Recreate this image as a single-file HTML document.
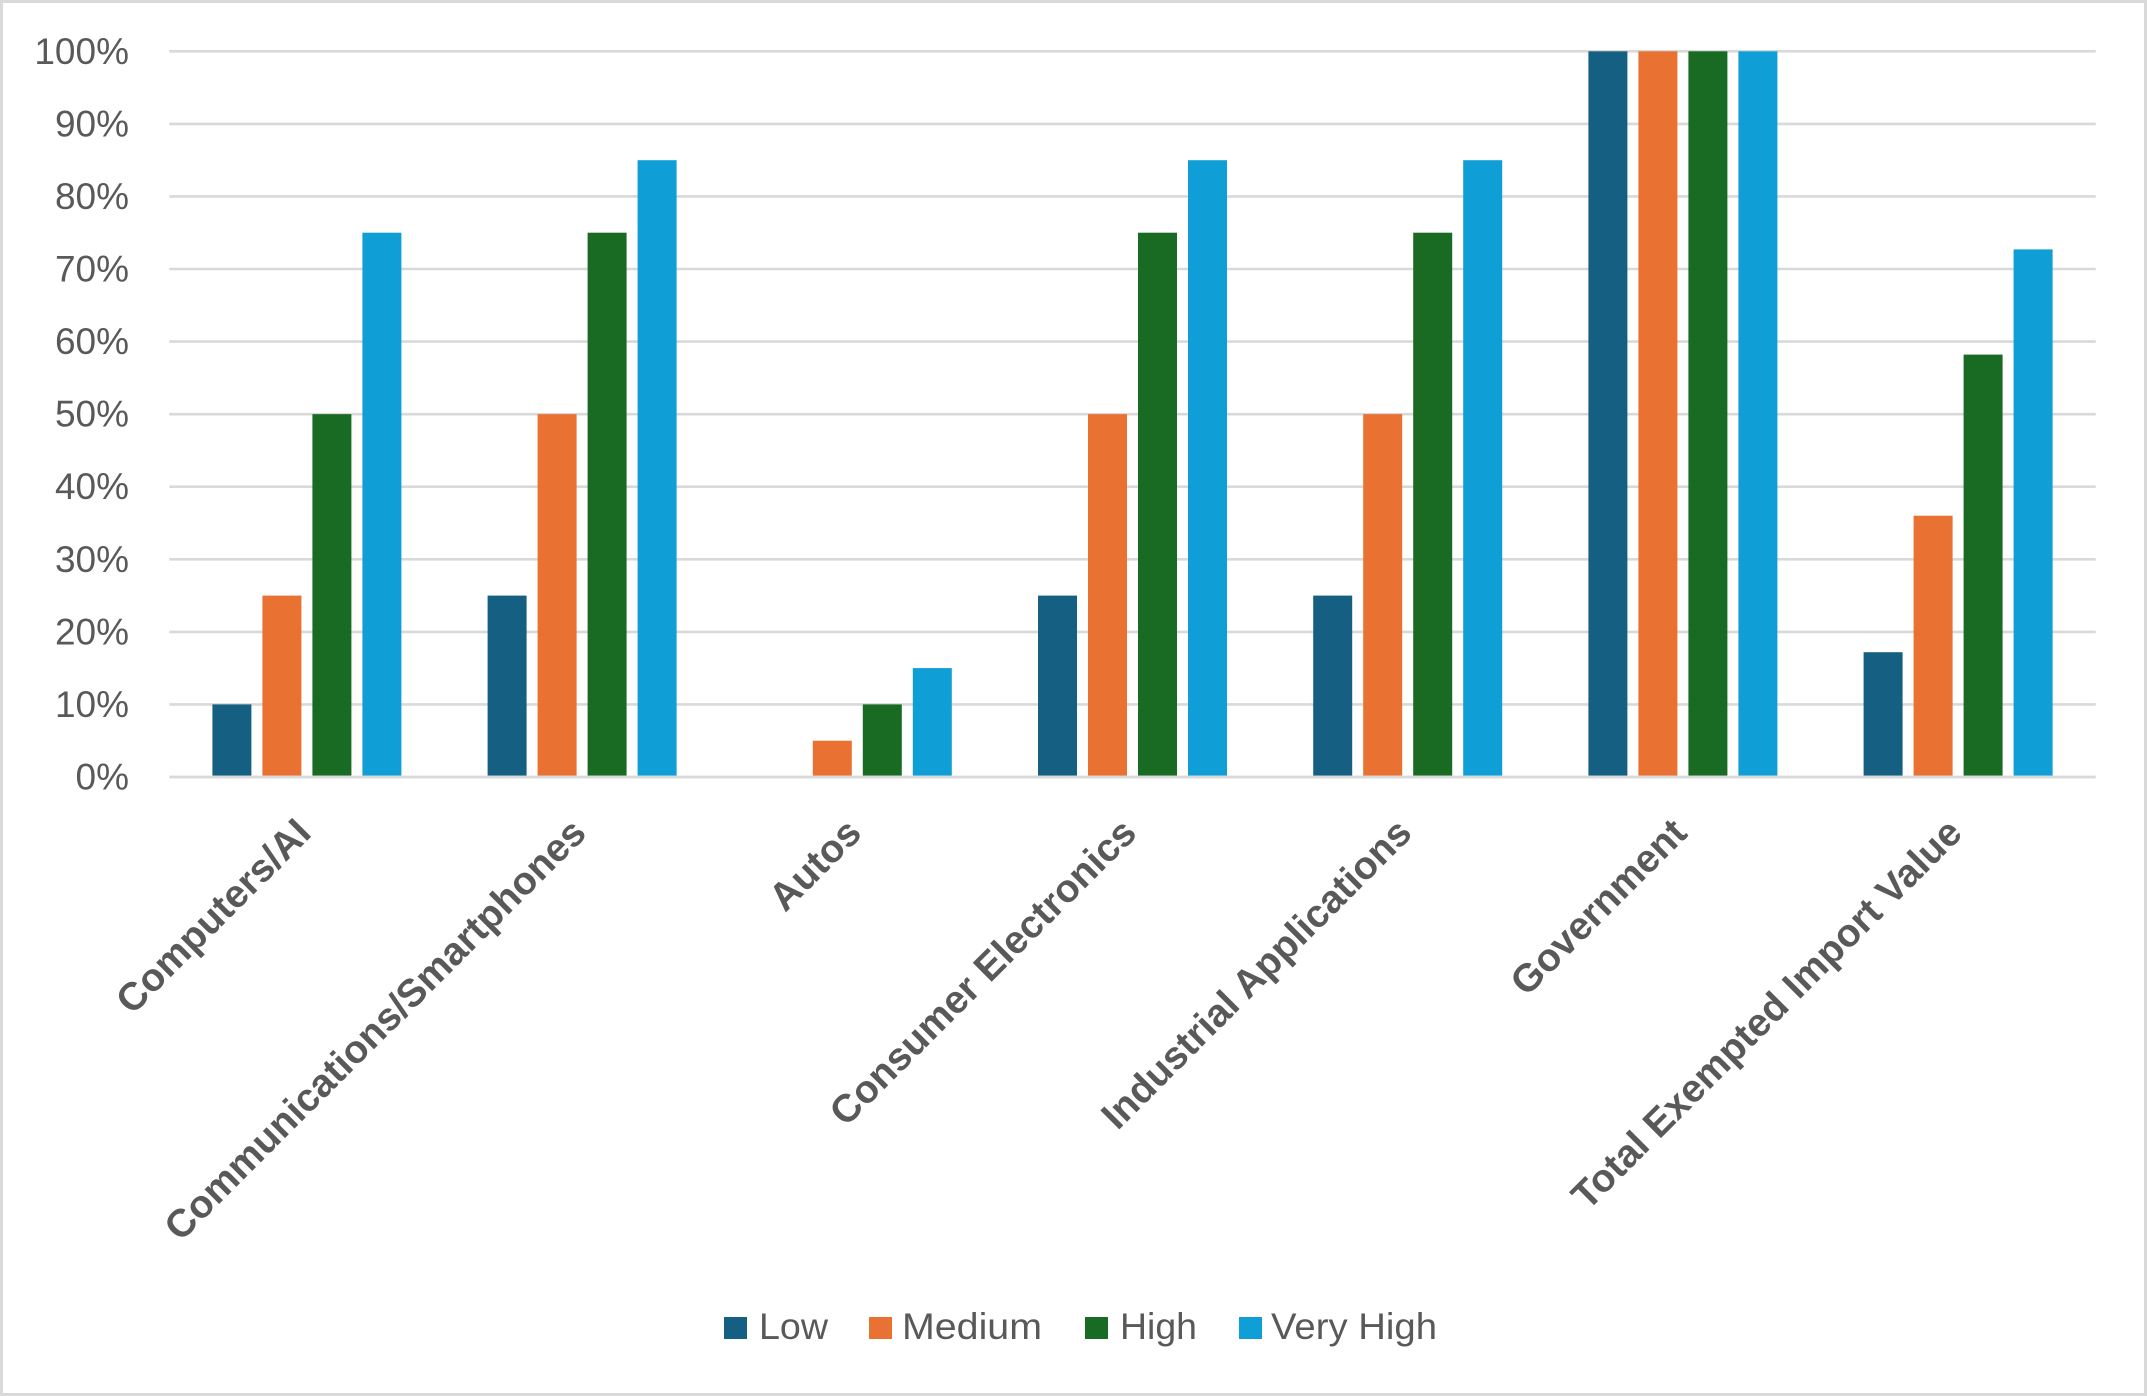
<!DOCTYPE html>
<html>
<head>
<meta charset="utf-8">
<style>
  html, body { margin: 0; padding: 0; background: #ffffff; }
  svg { display: block; }
  text { font-family: "Liberation Sans", Arial, sans-serif; fill: #595959; }
</style>
</head>
<body>
<svg width="2147" height="1396" viewBox="0 0 2147 1396" xmlns="http://www.w3.org/2000/svg">
  <rect x="0" y="0" width="2147" height="1396" fill="#ffffff"/>
  <rect x="1.5" y="1.5" width="2144" height="1393" fill="none" stroke="#d9d9d9" stroke-width="3"/>

  <!-- gridlines -->
  <g stroke="#d9d9d9" stroke-width="2.6">
    <line x1="169.3" x2="2095.7" y1="51.3" y2="51.3"/>
    <line x1="169.3" x2="2095.7" y1="123.9" y2="123.9"/>
    <line x1="169.3" x2="2095.7" y1="196.4" y2="196.4"/>
    <line x1="169.3" x2="2095.7" y1="269.0" y2="269.0"/>
    <line x1="169.3" x2="2095.7" y1="341.6" y2="341.6"/>
    <line x1="169.3" x2="2095.7" y1="414.2" y2="414.2"/>
    <line x1="169.3" x2="2095.7" y1="486.7" y2="486.7"/>
    <line x1="169.3" x2="2095.7" y1="559.3" y2="559.3"/>
    <line x1="169.3" x2="2095.7" y1="631.9" y2="631.9"/>
    <line x1="169.3" x2="2095.7" y1="704.4" y2="704.4"/>
  </g>

  <!-- y labels -->
  <g font-size="37" text-anchor="end">
    <text x="129" y="63.8">100%</text>
    <text x="129" y="136.4">90%</text>
    <text x="129" y="208.9">80%</text>
    <text x="129" y="281.5">70%</text>
    <text x="129" y="354.1">60%</text>
    <text x="129" y="426.7">50%</text>
    <text x="129" y="499.2">40%</text>
    <text x="129" y="571.8">30%</text>
    <text x="129" y="644.4">20%</text>
    <text x="129" y="716.9">10%</text>
    <text x="129" y="789.5">0%</text>
  </g>

  <!-- bars -->
  <!-- Computers/AI -->
  <rect x="212.4" y="704.4" width="39" height="71.3" fill="#156082"/>
  <rect x="262.4" y="595.6" width="39" height="180.1" fill="#E97132"/>
  <rect x="312.4" y="414.15" width="39" height="361.55" fill="#196B24"/>
  <rect x="362.4" y="232.7" width="39" height="543" fill="#0F9ED5"/>
  <!-- Communications -->
  <rect x="487.6" y="595.6" width="39" height="180.1" fill="#156082"/>
  <rect x="537.6" y="414.15" width="39" height="361.55" fill="#E97132"/>
  <rect x="587.6" y="232.7" width="39" height="543" fill="#196B24"/>
  <rect x="637.6" y="160.2" width="39" height="615.5" fill="#0F9ED5"/>
  <!-- Autos -->
  <rect x="812.8" y="740.7" width="39" height="35" fill="#E97132"/>
  <rect x="862.8" y="704.4" width="39" height="71.3" fill="#196B24"/>
  <rect x="912.8" y="668.1" width="39" height="107.6" fill="#0F9ED5"/>
  <!-- Consumer Electronics -->
  <rect x="1038.0" y="595.6" width="39" height="180.1" fill="#156082"/>
  <rect x="1088.0" y="414.15" width="39" height="361.55" fill="#E97132"/>
  <rect x="1138.0" y="232.7" width="39" height="543" fill="#196B24"/>
  <rect x="1188.0" y="160.2" width="39" height="615.5" fill="#0F9ED5"/>
  <!-- Industrial -->
  <rect x="1313.2" y="595.6" width="39" height="180.1" fill="#156082"/>
  <rect x="1363.2" y="414.15" width="39" height="361.55" fill="#E97132"/>
  <rect x="1413.2" y="232.7" width="39" height="543" fill="#196B24"/>
  <rect x="1463.2" y="160.2" width="39" height="615.5" fill="#0F9ED5"/>
  <!-- Government -->
  <rect x="1588.4" y="51.3" width="39" height="724.4" fill="#156082"/>
  <rect x="1638.4" y="51.3" width="39" height="724.4" fill="#E97132"/>
  <rect x="1688.4" y="51.3" width="39" height="724.4" fill="#196B24"/>
  <rect x="1738.4" y="51.3" width="39" height="724.4" fill="#0F9ED5"/>
  <!-- Total -->
  <rect x="1863.6" y="652.2" width="39" height="123.5" fill="#156082"/>
  <rect x="1913.6" y="515.7" width="39" height="260" fill="#E97132"/>
  <rect x="1963.6" y="354.6" width="39" height="421.1" fill="#196B24"/>
  <rect x="2013.6" y="249.4" width="39" height="526.3" fill="#0F9ED5"/>

  <!-- baseline -->
  <line x1="169.3" x2="2095.7" y1="777" y2="777" stroke="#d9d9d9" stroke-width="2.7"/>

  <!-- category labels -->
  <g font-size="39" font-weight="bold" text-anchor="end">
    <text x="312.9" y="835" transform="rotate(-45 312.9 835)">Computers/AI</text>
    <text x="588.1" y="835" transform="rotate(-45 588.1 835)">Communications/Smartphones</text>
    <text x="863.3" y="835" transform="rotate(-45 863.3 835)">Autos</text>
    <text x="1138.5" y="835" transform="rotate(-45 1138.5 835)">Consumer Electronics</text>
    <text x="1413.7" y="835" transform="rotate(-45 1413.7 835)">Industrial Applications</text>
    <text x="1688.9" y="835" transform="rotate(-45 1688.9 835)">Government</text>
    <text x="1964.1" y="835" transform="rotate(-45 1964.1 835)">Total Exempted Import Value</text>
  </g>

  <!-- legend -->
  <rect x="724" y="1317" width="23" height="22" fill="#156082"/>
  <text x="759" y="1339" font-size="37" textLength="69" lengthAdjust="spacingAndGlyphs">Low</text>
  <rect x="869" y="1317" width="23" height="22" fill="#E97132"/>
  <text x="902" y="1339" font-size="37" textLength="140" lengthAdjust="spacingAndGlyphs">Medium</text>
  <rect x="1085" y="1317" width="23" height="22" fill="#196B24"/>
  <text x="1120" y="1339" font-size="37" textLength="77" lengthAdjust="spacingAndGlyphs">High</text>
  <rect x="1239" y="1317" width="23" height="22" fill="#0F9ED5"/>
  <text x="1271" y="1339" font-size="37" textLength="166" lengthAdjust="spacingAndGlyphs">Very High</text>
</svg>
</body>
</html>
